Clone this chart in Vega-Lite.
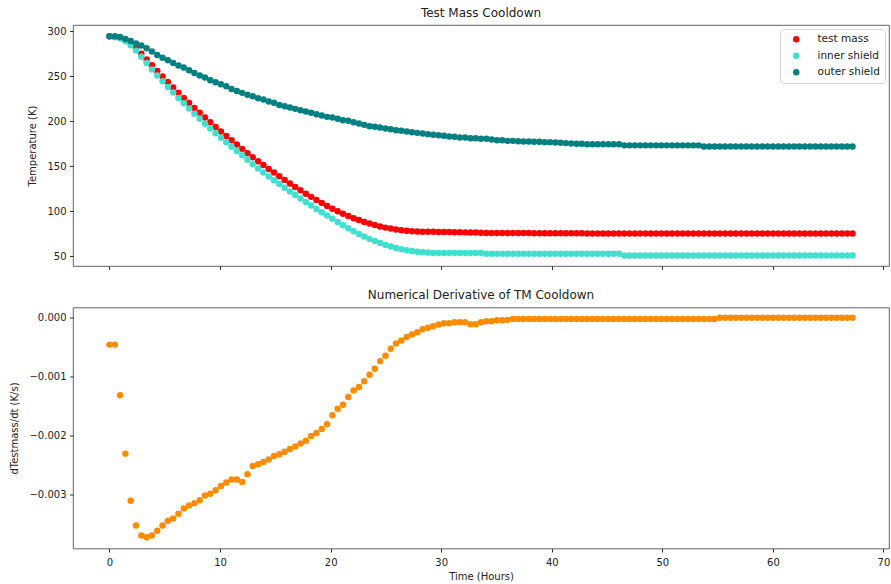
{
  "$schema": "https://vega.github.io/schema/vega-lite/v6.json",
  "padding": {"left": 9, "top": 6, "right": 2, "bottom": 3},
  "background": "white",
  "spacing": 16.5,
  "config": {
    "font": "DejaVu Sans",
    "view": {"stroke": "#3c3c3c", "strokeWidth": 0.8},
    "axis": {"grid": false, "domain": false, "tickColor": "#000", "tickSize": 3.5, "tickWidth": 0.8, "labelFont": "DejaVu Sans", "labelFontSize": 10, "labelColor": "#222", "labelPadding": 3.5, "titleFont": "DejaVu Sans", "titleFontSize": 10, "titleFontWeight": "normal", "titleColor": "#222", "titlePadding": 9},
    "title": {"font": "DejaVu Sans", "fontSize": 12, "fontWeight": "normal", "color": "#222", "offset": 5, "frame": "group", "anchor": "middle"},
    "legend": {"orient": "top-right", "offset": 4, "padding": 5, "strokeColor": "#d6d6d6", "fillColor": "white", "cornerRadius": 3, "labelFont": "DejaVu Sans", "labelFontSize": 10.5, "labelColor": "#222", "symbolType": "circle", "symbolSize": 42, "symbolStrokeWidth": 0, "symbolOffset": 6, "labelOffset": 16, "rowPadding": 5.5}
  },
  "data": {"values": [
    {"t":0,"tm":294.4,"ins":294.4,"outs":294.4,"d":-0.00046},
    {"t":0.48,"tm":293.6,"ins":293.6,"outs":294.4,"d":-0.00046},
    {"t":0.96,"tm":292.8,"ins":292.0,"outs":293.7,"d":-0.00132},
    {"t":1.44,"tm":290.5,"ins":289.0,"outs":291.5,"d":-0.00231},
    {"t":1.92,"tm":286.5,"ins":284.5,"outs":289.3,"d":-0.00311},
    {"t":2.4,"tm":281.2,"ins":278.5,"outs":286.3,"d":-0.00353},
    {"t":2.88,"tm":275.1,"ins":271.8,"outs":284.1,"d":-0.0037},
    {"t":3.36,"tm":268.7,"ins":264.8,"outs":281.1,"d":-0.00373},
    {"t":3.84,"tm":262.2,"ins":257.5,"outs":277.4,"d":-0.0037},
    {"t":4.32,"tm":255.8,"ins":250.8,"outs":273.7,"d":-0.00362},
    {"t":4.8,"tm":249.6,"ins":244.3,"outs":270.7,"d":-0.00353},
    {"t":5.28,"tm":243.5,"ins":238.0,"outs":267.8,"d":-0.00345},
    {"t":5.76,"tm":237.5,"ins":231.8,"outs":264.8,"d":-0.00341},
    {"t":6.24,"tm":231.6,"ins":225.8,"outs":261.9,"d":-0.00333},
    {"t":6.72,"tm":225.9,"ins":219.9,"outs":259.6,"d":-0.00324},
    {"t":7.2,"tm":220.3,"ins":214.0,"outs":256.7,"d":-0.00319},
    {"t":7.68,"tm":214.8,"ins":208.2,"outs":253.7,"d":-0.00315},
    {"t":8.16,"tm":209.3,"ins":202.6,"outs":250.7,"d":-0.0031},
    {"t":8.64,"tm":204.0,"ins":197.1,"outs":248.5,"d":-0.00302},
    {"t":9.12,"tm":198.7,"ins":191.8,"outs":245.6,"d":-0.00299},
    {"t":9.6,"tm":193.6,"ins":186.6,"outs":243.3,"d":-0.00293},
    {"t":10.08,"tm":188.5,"ins":181.5,"outs":241.1,"d":-0.00286},
    {"t":10.56,"tm":183.6,"ins":176.5,"outs":238.9,"d":-0.0028},
    {"t":11.04,"tm":178.7,"ins":171.6,"outs":235.9,"d":-0.00275},
    {"t":11.52,"tm":174.0,"ins":166.9,"outs":233.7,"d":-0.00275},
    {"t":12,"tm":169.2,"ins":162.0,"outs":231.5,"d":-0.00279},
    {"t":12.48,"tm":164.4,"ins":157.0,"outs":229.3,"d":-0.00266},
    {"t":12.96,"tm":159.8,"ins":152.2,"outs":227.8,"d":-0.00252},
    {"t":13.44,"tm":155.5,"ins":147.5,"outs":225.6,"d":-0.00249},
    {"t":13.92,"tm":151.2,"ins":143.0,"outs":224.1,"d":-0.00245},
    {"t":14.4,"tm":146.9,"ins":138.6,"outs":221.9,"d":-0.00241},
    {"t":14.88,"tm":142.8,"ins":134.3,"outs":220.4,"d":-0.00235},
    {"t":15.36,"tm":138.7,"ins":130.1,"outs":218.1,"d":-0.00232},
    {"t":15.84,"tm":134.7,"ins":126.0,"outs":216.7,"d":-0.00228},
    {"t":16.32,"tm":130.7,"ins":121.9,"outs":215.2,"d":-0.00223},
    {"t":16.8,"tm":126.9,"ins":117.9,"outs":213.7,"d":-0.00219},
    {"t":17.28,"tm":123.1,"ins":113.9,"outs":212.2,"d":-0.00214},
    {"t":17.76,"tm":119.4,"ins":110.0,"outs":210.7,"d":-0.00209},
    {"t":18.24,"tm":115.8,"ins":106.1,"outs":209.3,"d":-0.00201},
    {"t":18.72,"tm":112.3,"ins":102.3,"outs":207.8,"d":-0.00196},
    {"t":19.2,"tm":108.9,"ins":98.6,"outs":206.3,"d":-0.00189},
    {"t":19.68,"tm":105.7,"ins":95.0,"outs":204.8,"d":-0.00181},
    {"t":20.16,"tm":102.5,"ins":91.4,"outs":204.1,"d":-0.00166},
    {"t":20.64,"tm":99.7,"ins":87.8,"outs":202.6,"d":-0.00155},
    {"t":21.12,"tm":97.0,"ins":84.3,"outs":201.1,"d":-0.00148},
    {"t":21.6,"tm":94.4,"ins":80.9,"outs":200.4,"d":-0.00135},
    {"t":22.08,"tm":92.1,"ins":77.6,"outs":198.9,"d":-0.00124},
    {"t":22.56,"tm":90.0,"ins":74.5,"outs":197.4,"d":-0.00118},
    {"t":23.04,"tm":87.9,"ins":71.6,"outs":195.9,"d":-0.00108},
    {"t":23.52,"tm":86.1,"ins":69.0,"outs":194.4,"d":-0.00097},
    {"t":24,"tm":84.4,"ins":66.6,"outs":193.7,"d":-0.00087},
    {"t":24.48,"tm":82.9,"ins":64.4,"outs":193.0,"d":-0.00074},
    {"t":24.96,"tm":81.6,"ins":62.4,"outs":191.9,"d":-0.00065},
    {"t":25.44,"tm":80.5,"ins":60.6,"outs":191.1,"d":-0.00053},
    {"t":25.92,"tm":79.6,"ins":59.0,"outs":190.0,"d":-0.00044},
    {"t":26.4,"tm":78.8,"ins":57.6,"outs":189.3,"d":-0.00039},
    {"t":26.88,"tm":78.1,"ins":56.4,"outs":188.5,"d":-0.00033},
    {"t":27.36,"tm":77.5,"ins":55.5,"outs":187.8,"d":-0.00029},
    {"t":27.84,"tm":77.3,"ins":54.8,"outs":187.0,"d":-0.00025},
    {"t":28.32,"tm":77.1,"ins":54.3,"outs":186.3,"d":-0.0002},
    {"t":28.8,"tm":77.0,"ins":54.0,"outs":185.6,"d":-0.000175},
    {"t":29.28,"tm":76.9,"ins":53.4,"outs":184.8,"d":-0.000147},
    {"t":29.76,"tm":76.8,"ins":53.4,"outs":184.4,"d":-0.000119},
    {"t":30.24,"tm":76.7,"ins":53.4,"outs":183.7,"d":-0.000096},
    {"t":30.72,"tm":76.6,"ins":53.4,"outs":183.0,"d":-0.000096},
    {"t":31.2,"tm":76.5,"ins":53.4,"outs":182.6,"d":-0.000079},
    {"t":31.68,"tm":76.4,"ins":53.4,"outs":181.9,"d":-0.000079},
    {"t":32.16,"tm":76.3,"ins":53.4,"outs":181.9,"d":-0.000079},
    {"t":32.64,"tm":76.2,"ins":53.4,"outs":181.1,"d":-0.000113},
    {"t":33.12,"tm":76.1,"ins":53.4,"outs":181.1,"d":-0.000113},
    {"t":33.6,"tm":76.0,"ins":53.4,"outs":180.4,"d":-0.000079},
    {"t":34.08,"tm":75.6,"ins":52.6,"outs":180.4,"d":-0.000062},
    {"t":34.56,"tm":75.6,"ins":52.6,"outs":179.6,"d":-0.000062},
    {"t":35.04,"tm":75.6,"ins":52.6,"outs":178.9,"d":-0.000045},
    {"t":35.52,"tm":75.6,"ins":52.6,"outs":178.9,"d":-0.000045},
    {"t":36,"tm":75.6,"ins":52.6,"outs":178.1,"d":-0.00004},
    {"t":36.48,"tm":75.6,"ins":52.6,"outs":178.1,"d":-0.000025},
    {"t":36.96,"tm":75.6,"ins":52.6,"outs":177.8,"d":-0.000025},
    {"t":37.44,"tm":75.6,"ins":52.6,"outs":177.4,"d":-0.000025},
    {"t":37.92,"tm":75.6,"ins":52.6,"outs":177.4,"d":-0.000025},
    {"t":38.4,"tm":75.3,"ins":52.6,"outs":177.0,"d":-0.000025},
    {"t":38.88,"tm":75.3,"ins":52.6,"outs":177.0,"d":-0.000025},
    {"t":39.36,"tm":75.3,"ins":52.6,"outs":176.7,"d":-0.000025},
    {"t":39.84,"tm":75.3,"ins":52.6,"outs":176.7,"d":-0.000025},
    {"t":40.32,"tm":75.3,"ins":52.6,"outs":176.3,"d":-0.000025},
    {"t":40.8,"tm":75.3,"ins":52.6,"outs":176.0,"d":-0.000025},
    {"t":41.28,"tm":75.3,"ins":52.6,"outs":175.6,"d":-0.000025},
    {"t":41.76,"tm":75.3,"ins":52.6,"outs":175.3,"d":-0.000025},
    {"t":42.24,"tm":75.3,"ins":52.6,"outs":175.0,"d":-0.000025},
    {"t":42.72,"tm":75.3,"ins":52.6,"outs":174.8,"d":-0.000025},
    {"t":43.2,"tm":75.0,"ins":52.6,"outs":174.3,"d":-0.000025},
    {"t":43.68,"tm":75.0,"ins":52.6,"outs":174.3,"d":-0.000025},
    {"t":44.16,"tm":75.0,"ins":52.6,"outs":174.3,"d":-0.000025},
    {"t":44.64,"tm":75.0,"ins":52.6,"outs":174.3,"d":-0.000025},
    {"t":45.12,"tm":75.0,"ins":52.6,"outs":174.3,"d":-0.000025},
    {"t":45.6,"tm":75.0,"ins":52.6,"outs":174.3,"d":-0.000025},
    {"t":46.08,"tm":75.0,"ins":52.6,"outs":174.3,"d":-0.000025},
    {"t":46.56,"tm":75.0,"ins":50.7,"outs":173.1,"d":-0.000025},
    {"t":47.04,"tm":75.0,"ins":50.7,"outs":173.1,"d":-0.000025},
    {"t":47.52,"tm":75.0,"ins":50.7,"outs":173.1,"d":-0.000025},
    {"t":48,"tm":75.0,"ins":50.7,"outs":173.1,"d":-0.000025},
    {"t":48.48,"tm":75.0,"ins":50.7,"outs":173.1,"d":-0.000025},
    {"t":48.96,"tm":75.0,"ins":50.7,"outs":173.1,"d":-0.000025},
    {"t":49.44,"tm":75.0,"ins":50.7,"outs":173.1,"d":-0.000025},
    {"t":49.92,"tm":75.0,"ins":50.7,"outs":173.1,"d":-0.000025},
    {"t":50.4,"tm":75.0,"ins":50.7,"outs":173.1,"d":-0.000025},
    {"t":50.88,"tm":75.0,"ins":50.7,"outs":173.1,"d":-0.000025},
    {"t":51.36,"tm":75.0,"ins":50.7,"outs":173.1,"d":-0.000025},
    {"t":51.84,"tm":75.0,"ins":50.7,"outs":173.1,"d":-0.000025},
    {"t":52.32,"tm":75.0,"ins":50.7,"outs":173.1,"d":-0.000025},
    {"t":52.8,"tm":75.0,"ins":50.7,"outs":173.1,"d":-0.000025},
    {"t":53.28,"tm":75.0,"ins":50.7,"outs":173.1,"d":-0.000025},
    {"t":53.76,"tm":75.0,"ins":50.7,"outs":171.9,"d":-0.000025},
    {"t":54.24,"tm":75.0,"ins":50.7,"outs":171.9,"d":-0.000025},
    {"t":54.72,"tm":75.0,"ins":50.7,"outs":171.9,"d":-0.000025},
    {"t":55.2,"tm":75.0,"ins":50.7,"outs":171.9,"d":-0.000003},
    {"t":55.68,"tm":75.0,"ins":50.7,"outs":171.9,"d":-0.000003},
    {"t":56.16,"tm":75.0,"ins":50.7,"outs":171.9,"d":-0.000003},
    {"t":56.64,"tm":75.0,"ins":50.7,"outs":171.9,"d":-0.000003},
    {"t":57.12,"tm":75.0,"ins":50.7,"outs":171.9,"d":-0.000003},
    {"t":57.6,"tm":75.0,"ins":50.7,"outs":171.9,"d":-0.000003},
    {"t":58.08,"tm":75.0,"ins":50.7,"outs":171.9,"d":-0.000003},
    {"t":58.56,"tm":75.0,"ins":50.7,"outs":171.9,"d":-0.000003},
    {"t":59.04,"tm":75.0,"ins":50.7,"outs":171.9,"d":-0.000003},
    {"t":59.52,"tm":75.0,"ins":50.7,"outs":171.9,"d":-0.000003},
    {"t":60,"tm":75.0,"ins":50.7,"outs":171.9,"d":-0.000003},
    {"t":60.48,"tm":75.0,"ins":50.7,"outs":171.9,"d":-0.000003},
    {"t":60.96,"tm":75.0,"ins":50.7,"outs":171.9,"d":-0.000003},
    {"t":61.44,"tm":75.0,"ins":50.7,"outs":171.9,"d":-0.000003},
    {"t":61.92,"tm":75.0,"ins":50.7,"outs":171.9,"d":-0.000003},
    {"t":62.4,"tm":75.0,"ins":50.7,"outs":171.9,"d":-0.000003},
    {"t":62.88,"tm":75.0,"ins":50.7,"outs":171.9,"d":-0.000003},
    {"t":63.36,"tm":75.0,"ins":50.7,"outs":171.9,"d":-0.000003},
    {"t":63.84,"tm":75.0,"ins":50.7,"outs":171.9,"d":-0.000003},
    {"t":64.32,"tm":75.0,"ins":50.7,"outs":171.9,"d":-0.000003},
    {"t":64.8,"tm":75.0,"ins":50.7,"outs":171.9,"d":-0.000003},
    {"t":65.28,"tm":75.0,"ins":50.7,"outs":171.9,"d":-0.000003},
    {"t":65.76,"tm":75.0,"ins":50.7,"outs":171.9,"d":-0.000003},
    {"t":66.24,"tm":75.0,"ins":50.7,"outs":171.9,"d":-0.000003},
    {"t":66.72,"tm":75.0,"ins":50.7,"outs":171.9,"d":-0.000003},
    {"t":67.2,"tm":75.0,"ins":50.7,"outs":171.9,"d":-0.000003}
  ]},
  "vconcat": [
    {
      "title": "Test Mass Cooldown",
      "width": 816,
      "height": 241,
      "encoding": {
        "x": {"field": "t", "type": "quantitative", "scale": {"domain": [-3.3, 70.5], "nice": false, "zero": false}, "axis": {"labels": false, "title": null, "values": [0, 10, 20, 30, 40, 50, 60, 70]}}
      },
      "layer": [
        {
          "mark": {"type": "circle", "size": 42, "opacity": 1},
          "encoding": {
            "y": {"field": "tm", "type": "quantitative", "scale": {"domain": [38.9, 307], "nice": false, "zero": false}, "axis": {"title": "Temperature (K)", "values": [50, 100, 150, 200, 250, 300]}},
            "color": {"datum": "test mass", "type": "nominal", "scale": {"domain": ["test mass", "inner shield", "outer shield"], "range": ["#ff0000", "#40e0d0", "#008080"]}, "legend": {"title": null}}
          }
        },
        {
          "mark": {"type": "circle", "size": 42, "opacity": 1},
          "encoding": {
            "y": {"field": "ins", "type": "quantitative", "axis": {"title": "Temperature (K)"}},
            "color": {"datum": "inner shield", "type": "nominal"}
          }
        },
        {
          "mark": {"type": "circle", "size": 42, "opacity": 1},
          "encoding": {
            "y": {"field": "outs", "type": "quantitative", "axis": {"title": "Temperature (K)"}},
            "color": {"datum": "outer shield", "type": "nominal"}
          }
        }
      ]
    },
    {
      "title": {"text": "Numerical Derivative of TM Cooldown", "offset": 6},
      "width": 816,
      "height": 241,
      "mark": {"type": "circle", "size": 42, "opacity": 1, "color": "#ff8c00"},
      "encoding": {
        "x": {"field": "t", "type": "quantitative", "scale": {"domain": [-3.3, 70.5], "nice": false, "zero": false}, "axis": {"title": "Time (Hours)", "labelPadding": 5, "titlePadding": 4, "values": [0, 10, 20, 30, 40, 50, 60, 70], "format": "d"}},
        "y": {"field": "d", "type": "quantitative", "scale": {"domain": [-0.00392, 0.00017], "nice": false, "zero": false}, "axis": {"title": "dTestmass/dt (K/s)", "values": [0, -0.001, -0.002, -0.003], "format": ".3f", "labelExpr": "replace(datum.label, '-', '\u2212')"}}
      }
    }
  ]
}
